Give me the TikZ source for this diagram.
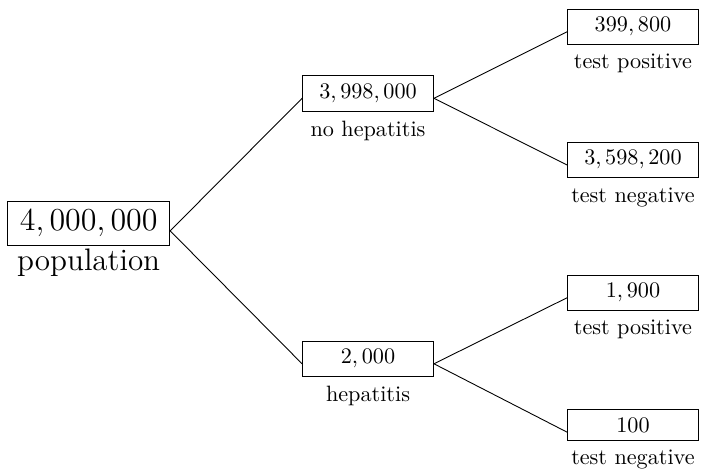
\documentclass[tikz,border=0pt]{standalone}
\usetikzlibrary{positioning}
\tikzset{
	countbox/.style={draw, minimum width=59pt, inner ysep=3.8pt},
	grouplabel/.style={inner sep=0pt}
}
\begin{document}
\begin{tikzpicture}
	\useasboundingbox (0,0) rectangle (11.113,7.472);

	% counts
	\node[countbox, font=\fontsize{14}{17}\selectfont, minimum width=0pt, inner xsep=5.5pt] (pop) at (1.404,3.931) {$4,000,000$};
	\node[countbox] (nohep) at (5.826,5.995) {$3,998,000$};
	\node[countbox] (hep) at (5.826,1.792) {$2,000$};
	\node[countbox] (nhpos) at (10.02,7.048) {$399,800$};
	\node[countbox] (nhneg) at (10.02,4.939) {$3,598,200$};
	\node[countbox] (hpos) at (10.02,2.837) {$1,900$};
	\node[countbox] (hneg) at (10.02,0.744) {$100$};

	% what each count is
	\node[grouplabel, font=\fontsize{14}{17}\selectfont, below=1pt of pop] (popt) {population};
	\node[grouplabel, below=4pt of nohep] (nohept) {no hepatitis};
	\node[grouplabel, below=4pt of hep] (hept) {hepatitis};
	\node[grouplabel, below=4pt of nhpos] (nhpost) {test positive};
	\node[grouplabel, below=4pt of nhneg] (nhnegt) {test negative};
	\node[grouplabel, below=4pt of hpos] (hpost) {test positive};
	\node[grouplabel, below=4pt of hneg] (hnegt) {test negative};

	\foreach \a/\b in {pop/nohep, pop/hep, nohep/nhpos, nohep/nhneg, hep/hpos, hep/hneg}
		\draw (\a.base east) -- (\b.base west);
\end{tikzpicture}
\end{document}
